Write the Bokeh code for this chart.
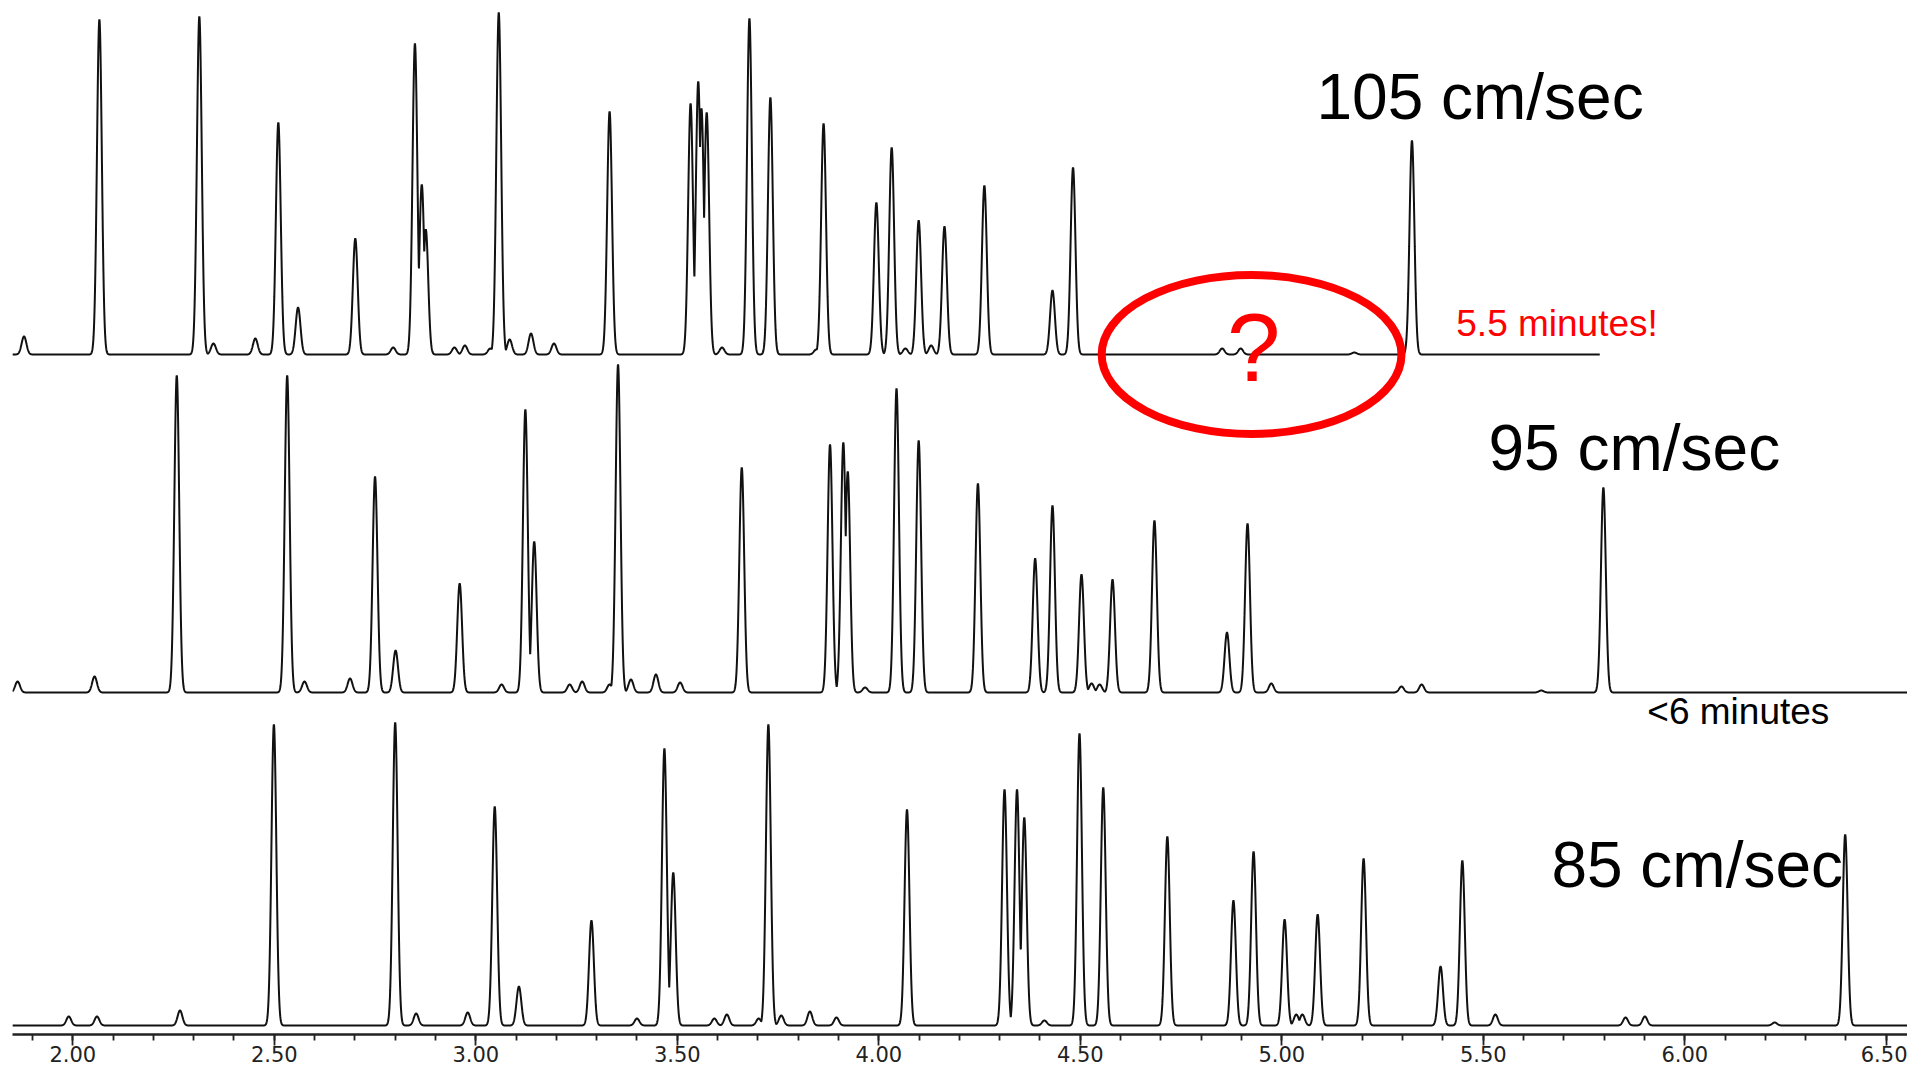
import numpy as np
from bokeh.plotting import figure
from bokeh.models import Range1d, SingleIntervalTicker, NumeralTickFormatter
from bokeh.embed import file_html
from bokeh.resources import INLINE
from bokeh.core.properties import value

# ---------------- data: peak retention times (min) and responses ----------------
rt_105 = [1.879, 2.066, 2.314, 2.349, 2.453, 2.510, 2.559, 2.701, 2.795, 2.849, 2.866, 2.876,
          2.947, 2.973, 3.036, 3.057, 3.084, 3.137, 3.194, 3.332, 3.533, 3.552, 3.560, 3.573,
          3.611, 3.679, 3.731, 3.845, 3.863, 3.994, 4.032, 4.066, 4.099, 4.130, 4.163, 4.262,
          4.431, 4.482, 4.852, 4.898, 5.180, 5.323]
resp_105 = [18, 335, 338, 11, 16, 232, 47, 116, 7, 311, 170, 125,
            7, 9, 6, 342, 15, 21, 11, 243, 251, 273, 246, 242,
            7, 336, 257, 5, 231, 152, 207, 6, 134, 9, 128, 169,
            64, 187, 6, 6, 2, 214]
end_105 = 5.789

rt_95 = [1.863, 2.054, 2.258, 2.532, 2.575, 2.688, 2.750, 2.801, 2.960, 3.064, 3.123, 3.145,
         3.233, 3.264, 3.332, 3.353, 3.385, 3.447, 3.507, 3.660, 3.879, 3.912, 3.923, 3.966,
         4.044, 4.099, 4.246, 4.388, 4.431, 4.503, 4.528, 4.548, 4.580, 4.684, 4.864, 4.915,
         4.974, 5.297, 5.347, 5.644, 5.798]
resp_95 = [11, 16, 317, 317, 11, 14, 216, 42, 109, 8, 283, 151,
           8, 11, 8, 328, 13, 18, 10, 225, 248, 250, 221, 5,
           304, 252, 209, 134, 187, 118, 9, 8, 113, 172, 60, 169,
           9, 6, 8, 2, 205]

rt_85 = [1.990, 2.060, 2.266, 2.499, 2.800, 2.852, 2.980, 3.047, 3.107, 3.287, 3.400, 3.468,
         3.490, 3.592, 3.623, 3.702, 3.726, 3.758, 3.829, 3.895, 4.070, 4.312, 4.343, 4.361,
         4.411, 4.498, 4.557, 4.716, 4.880, 4.930, 5.007, 5.036, 5.051, 5.089, 5.203, 5.394,
         5.448, 5.530, 5.853, 5.901, 6.223, 6.398]
resp_85 = [9, 9, 15, 301, 303, 12, 13, 219, 39, 105, 7, 277,
           153, 7, 11, 7, 301, 10, 14, 8, 216, 236, 236, 208,
           5, 292, 238, 189, 125, 174, 106, 11, 11, 111, 167, 59,
           165, 11, 8, 9, 3, 191]

run_labels = ["105 cm/sec", "95 cm/sec", "85 cm/sec"]
note_105 = "5.5 minutes!"
note_95 = "<6 minutes"

# ---------------- layout / style ----------------
X0 = 1.8504
X1 = X0 + 1895 / 403.0
SIG = 0.006
offsets = [691, 353, 20]
grid = np.arange(1.850, 6.56, 0.0005)


def trace(ts, hs, end=None):
    g = grid if end is None else grid[grid <= end]
    y = np.zeros_like(g)
    for t, h in zip(ts, hs):
        y = np.maximum(y, h * np.exp(-0.5 * ((g - t) / SIG) ** 2))
    return g, y


p = figure(width=1907, height=1070, output_backend="svg", toolbar_location=None,
           x_range=Range1d(X0, X1), y_range=Range1d(11, 1045),
           y_axis_location=None, min_border_left=12, min_border_right=0,
           min_border_top=0, min_border_bottom=36)
p.grid.visible = False
p.outline_line_color = None
p.background_fill_color = "white"

for (ts, hs, end), off in zip([(rt_105, resp_105, end_105), (rt_95, resp_95, None),
                               (rt_85, resp_85, None)], offsets):
    gx, gy = trace(ts, hs, end)
    p.line(gx, gy + off, line_color="#111111", line_width=2.0)

# axis
ax = p.xaxis[0]
ax.ticker = SingleIntervalTicker(interval=0.5, num_minor_ticks=5)
ax.formatter = NumeralTickFormatter(format="0.00")
ax.axis_line_width = 2.4
ax.axis_line_color = "#222222"
ax.major_tick_line_color = "#222222"
ax.minor_tick_line_color = "#222222"
ax.major_tick_line_width = 1.8
ax.minor_tick_line_width = 1.8
ax.major_tick_in = 0
ax.major_tick_out = 11
ax.minor_tick_in = 0
ax.minor_tick_out = 6
ax.major_label_standoff = 0
ax.major_label_text_font = "DejaVu Sans"
ax.major_label_text_font_size = "21px"
ax.major_label_text_color = "#222222"

font = value("Liberation Sans")
# run labels
p.text(x=[5.086, 5.513, 5.669], y=[949, 598, 181], text=run_labels,
       text_font=font, text_font_size="64px", text_color="black",
       text_baseline="alphabetic", text_align="left")
p.text(x=[5.433], y=[722], text=[note_105], text_font=font, text_font_size="37px",
       text_color="#ff0000", text_baseline="alphabetic", text_align="left")
p.text(x=[5.907], y=[334], text=[note_95], text_font=font, text_font_size="37px",
       text_color="black", text_baseline="alphabetic", text_align="left")

# red ellipse + question mark
p.ellipse(x=[4.925], y=[691], width=[0.744], height=[159], fill_color=None,
          line_color="#ff0000", line_width=8)
p.text(x=[4.930], y=[698], text=["?"], text_font=font, text_font_size="96px",
       text_color="#ff0000", text_baseline="alphabetic", text_align="center")

open("out.html", "w").write(file_html(p, INLINE))
